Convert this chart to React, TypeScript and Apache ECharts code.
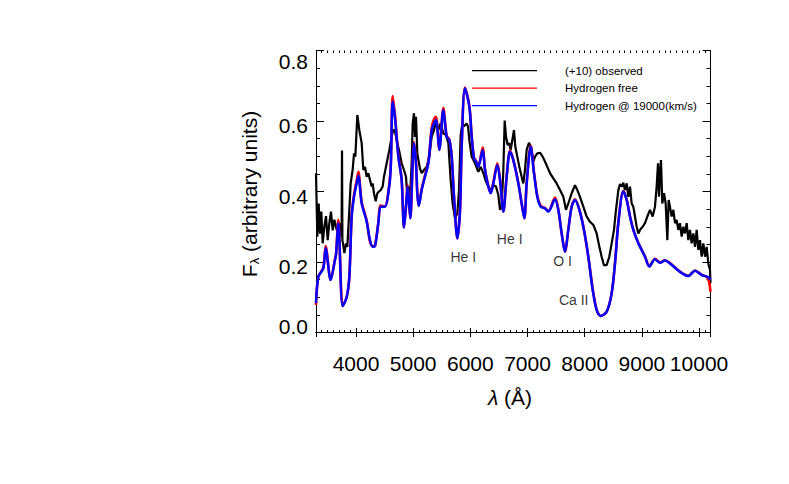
import { useEffect, useRef } from 'react';
import * as echarts from 'echarts';

const FONT = '"Liberation Sans", Arial, Helvetica, sans-serif';

// Observed spectrum (+10), wavelength in Å and flux (arbitrary units)
const obsWave = [3300, 3323, 3347, 3370, 3393, 3417, 3446, 3475, 3504, 3533, 3562, 3592, 3621, 3650, 3679, 3696, 3714, 3731, 3748, 3755, 3762, 3772, 3796, 3825, 3848, 3883, 3906, 3941, 3965, 3988, 4023, 4058, 4099, 4128, 4157, 4186, 4215, 4244, 4274, 4291, 4314, 4344, 4373, 4402, 4431, 4466, 4489, 4536, 4583, 4623, 4653, 4682, 4711, 4758, 4798, 4839, 4874, 4897, 4915, 4938, 4973, 4991, 5014, 5032, 5049, 5072, 5096, 5119, 5148, 5189, 5236, 5282, 5323, 5364, 5399, 5440, 5480, 5527, 5574, 5615, 5655, 5690, 5731, 5772, 5800, 5830, 5860, 5890, 5935, 5960, 5982, 6023, 6081, 6139, 6180, 6227, 6273, 6314, 6355, 6402, 6448, 6489, 6518, 6547, 6577, 6600, 6623, 6652, 6681, 6705, 6734, 6763, 6786, 6821, 6856, 6897, 6926, 6955, 6985, 7025, 7060, 7101, 7130, 7171, 7218, 7264, 7305, 7346, 7393, 7451, 7509, 7568, 7626, 7672, 7713, 7772, 7830, 7871, 7917, 7976, 8034, 8092, 8151, 8209, 8256, 8296, 8337, 8384, 8430, 8471, 8512, 8547, 8588, 8617, 8652, 8675, 8704, 8734, 8763, 8792, 8821, 8850, 8879, 8909, 8938, 8967, 9013, 9054, 9095, 9142, 9188, 9229, 9258, 9282, 9299, 9317, 9334, 9357, 9387, 9416, 9445, 9468, 9491, 9521, 9550, 9579, 9608, 9637, 9666, 9696, 9725, 9754, 9783, 9812, 9841, 9870, 9900, 9929, 9958, 9987, 10016, 10045, 10075, 10104, 10133, 10162, 10191, 10200];
const obsFlux = [0.452, 0.272, 0.366, 0.28, 0.343, 0.253, 0.3, 0.33, 0.262, 0.31, 0.343, 0.29, 0.32, 0.3, 0.28, 0.29, 0.31, 0.272, 0.3, 0.516, 0.26, 0.253, 0.225, 0.253, 0.243, 0.348, 0.423, 0.461, 0.508, 0.499, 0.617, 0.574, 0.537, 0.461, 0.47, 0.442, 0.452, 0.433, 0.414, 0.423, 0.395, 0.372, 0.395, 0.4, 0.404, 0.414, 0.442, 0.48, 0.518, 0.555, 0.576, 0.57, 0.546, 0.513, 0.48, 0.461, 0.442, 0.385, 0.414, 0.357, 0.48, 0.593, 0.622, 0.555, 0.612, 0.508, 0.485, 0.465, 0.452, 0.461, 0.47, 0.499, 0.555, 0.574, 0.598, 0.574, 0.593, 0.565, 0.56, 0.537, 0.433, 0.366, 0.324, 0.338, 0.4, 0.56, 0.593, 0.585, 0.593, 0.584, 0.546, 0.499, 0.48, 0.456, 0.47, 0.452, 0.428, 0.414, 0.404, 0.418, 0.414, 0.39, 0.348, 0.357, 0.461, 0.601, 0.556, 0.532, 0.537, 0.518, 0.546, 0.574, 0.527, 0.499, 0.47, 0.442, 0.423, 0.461, 0.518, 0.538, 0.527, 0.485, 0.499, 0.508, 0.51, 0.499, 0.485, 0.47, 0.452, 0.437, 0.423, 0.404, 0.385, 0.348, 0.366, 0.395, 0.418, 0.404, 0.385, 0.357, 0.329, 0.314, 0.305, 0.281, 0.243, 0.215, 0.191, 0.191, 0.215, 0.253, 0.291, 0.348, 0.404, 0.421, 0.414, 0.425, 0.404, 0.423, 0.385, 0.414, 0.366, 0.357, 0.329, 0.3, 0.281, 0.291, 0.3, 0.31, 0.329, 0.348, 0.329, 0.357, 0.414, 0.48, 0.385, 0.452, 0.489, 0.366, 0.395, 0.366, 0.262, 0.376, 0.357, 0.329, 0.348, 0.31, 0.319, 0.291, 0.31, 0.272, 0.3, 0.281, 0.31, 0.262, 0.291, 0.253, 0.281, 0.243, 0.291, 0.234, 0.262, 0.215, 0.253, 0.215, 0.243, 0.196, 0.177, 0.14];

// Model spectra
const modelWave = [3300, 3341, 3428, 3469, 3557, 3632, 3650, 3691, 3766, 3836, 3883, 3924, 3965, 4011, 4040, 4099, 4186, 4244, 4291, 4332, 4390, 4431, 4507, 4565, 4606, 4641, 4682, 4740, 4798, 4839, 4874, 4903, 4932, 4950, 4991, 5014, 5049, 5072, 5096, 5148, 5206, 5265, 5323, 5364, 5399, 5457, 5527, 5585, 5632, 5673, 5714, 5772, 5819, 5848, 5906, 5982, 6023, 6063, 6098, 6139, 6215, 6256, 6314, 6355, 6402, 6472, 6518, 6577, 6635, 6693, 6751, 6839, 6897, 6944, 6985, 7055, 7113, 7171, 7229, 7305, 7364, 7480, 7538, 7597, 7655, 7713, 7772, 7830, 7906, 7987, 8063, 8139, 8209, 8279, 8384, 8471, 8530, 8588, 8675, 8734, 8792, 8850, 8938, 9054, 9130, 9229, 9317, 9404, 9491, 9666, 9812, 9929, 10045, 10150, 10200];
const hydrogen19000 = [0.083, 0.158, 0.182, 0.239, 0.149, 0.206, 0.22, 0.31, 0.075, 0.1, 0.158, 0.329, 0.385, 0.423, 0.445, 0.366, 0.315, 0.262, 0.243, 0.245, 0.31, 0.357, 0.357, 0.395, 0.461, 0.655, 0.608, 0.499, 0.433, 0.298, 0.357, 0.414, 0.357, 0.324, 0.48, 0.537, 0.48, 0.395, 0.359, 0.404, 0.442, 0.48, 0.574, 0.593, 0.603, 0.518, 0.631, 0.555, 0.546, 0.499, 0.385, 0.267, 0.348, 0.527, 0.693, 0.641, 0.555, 0.494, 0.485, 0.47, 0.518, 0.461, 0.414, 0.395, 0.423, 0.475, 0.433, 0.343, 0.442, 0.513, 0.489, 0.423, 0.366, 0.324, 0.423, 0.527, 0.452, 0.385, 0.357, 0.352, 0.343, 0.378, 0.348, 0.281, 0.229, 0.291, 0.357, 0.376, 0.348, 0.291, 0.215, 0.121, 0.064, 0.047, 0.059, 0.111, 0.196, 0.31, 0.4, 0.376, 0.329, 0.291, 0.253, 0.215, 0.187, 0.208, 0.198, 0.204, 0.196, 0.172, 0.16, 0.175, 0.163, 0.158, 0.15];
const hydrogenFree = [0.078, 0.158, 0.184, 0.245, 0.149, 0.208, 0.222, 0.32, 0.075, 0.1, 0.158, 0.332, 0.39, 0.43, 0.456, 0.37, 0.318, 0.258, 0.245, 0.247, 0.312, 0.36, 0.358, 0.398, 0.466, 0.671, 0.615, 0.502, 0.435, 0.298, 0.358, 0.418, 0.358, 0.324, 0.484, 0.54, 0.482, 0.395, 0.36, 0.406, 0.445, 0.483, 0.58, 0.605, 0.612, 0.52, 0.637, 0.558, 0.548, 0.5, 0.385, 0.267, 0.348, 0.53, 0.695, 0.643, 0.557, 0.496, 0.487, 0.472, 0.525, 0.463, 0.416, 0.396, 0.426, 0.48, 0.435, 0.343, 0.444, 0.516, 0.49, 0.424, 0.366, 0.324, 0.425, 0.53, 0.454, 0.387, 0.36, 0.353, 0.344, 0.383, 0.349, 0.281, 0.229, 0.292, 0.358, 0.378, 0.349, 0.291, 0.215, 0.125, 0.064, 0.047, 0.059, 0.111, 0.198, 0.312, 0.402, 0.377, 0.33, 0.292, 0.254, 0.216, 0.188, 0.209, 0.199, 0.205, 0.197, 0.173, 0.161, 0.176, 0.164, 0.155, 0.116];

// Line identifications
const lineIds = ['He I', 'He I', 'O I', 'Ca II'];
const lineIdWave = [5877, 6688, 7612, 7807];
const lineIdFlux = [0.213, 0.264, 0.203, 0.092];

const yTicks = [0, 0.2, 0.4, 0.6, 0.8];
const seriesNames = ['(+10) observed', 'Hydrogen free', 'Hydrogen @ 19000(km/s)'];
const seriesColors = ['#000000', '#ff0000', '#0000ff'];

export default function App() {
  const ref = useRef<HTMLDivElement>(null);
  useEffect(() => {
    const chart = echarts.init(ref.current!, null, { renderer: 'svg' });
    const black = '#000';
    const xBase = {
      type: 'value',
      min: 3300,
      max: 10200,
      gridIndex: 0,
      splitLine: { show: false },
    };
    const yLabelFmt = (v: number) => {
      const s = v.toFixed(1);
      if (Math.abs(v - yTicks[yTicks.length - 1]) < 1e-6) return '{t|' + s + '}';
      if (Math.abs(v - yTicks[0]) < 1e-6) return '{b|' + s + '}';
      return '{m|' + s + '}';
    };
    const labStyle = { fontSize: 21, fontFamily: FONT, color: black };
    const option: any = {
      animation: false,
      backgroundColor: '#fff',
      color: seriesColors,
      grid: { left: 316, top: 50.5, width: 394.5, height: 282, show: false },
      legend: {
        orient: 'vertical',
        left: 472,
        top: 63.7,
        padding: 0,
        icon: 'rect',
        itemWidth: 65,
        itemHeight: 1.3,
        itemGap: 3.5,
        data: seriesNames.map((n, i) => ({ name: n, itemStyle: { color: seriesColors[i] } })),
        textStyle: { fontSize: 11.5, lineHeight: 14, fontFamily: FONT, color: black, padding: [0, 0, 0, 23] },
        selectedMode: false,
      },
      xAxis: [
        {
          ...xBase,
          position: 'bottom',
          splitNumber: 7,
          axisLine: { show: true, lineStyle: { color: black, width: 1 } },
          axisTick: { show: true, inside: true, length: 4.5, lineStyle: { color: black } },
          axisLabel: {
            show: true,
            margin: 20,
            ...labStyle,
            formatter: (v: number) => (v % 1000 === 0 ? String(v) : ''),
          },
        },
        {
          ...xBase,
          position: 'top',
          splitNumber: 7,
          axisLine: { show: true, lineStyle: { color: black, width: 1 } },
          axisTick: { show: true, inside: true, length: 4.5, lineStyle: { color: black } },
          axisLabel: { show: false },
        },
        {
          ...xBase,
          position: 'bottom',
          interval: 100,
          axisLine: { show: false },
          axisTick: { show: true, inside: true, length: 2.5, lineStyle: { color: black } },
          axisLabel: { show: false },
        },
        {
          ...xBase,
          position: 'top',
          interval: 100,
          axisLine: { show: false },
          axisTick: { show: true, inside: true, length: 2.5, lineStyle: { color: black } },
          axisLabel: { show: false },
        },
      ],
      yAxis: [
        {
          type: 'value',
          position: 'left',
          min: 0,
          max: 0.8,
          interval: 0.2,
          splitLine: { show: false },
          axisLine: { show: true, lineStyle: { color: black, width: 1 } },
          axisTick: { show: true, inside: true, length: 8, lineStyle: { color: black } },
          minorTick: { show: true, splitNumber: 4, length: 4, lineStyle: { color: black } },
          axisLabel: {
            margin: 8,
            ...labStyle,
            formatter: yLabelFmt,
            rich: {
              t: { ...labStyle, padding: [22, 0, 0, 0] },
              b: { ...labStyle, padding: [0, 0, 13, 0] },
              m: { ...labStyle, padding: [9, 0, 0, 0] },
            },
          },
        },
        {
          type: 'value',
          position: 'right',
          min: 0,
          max: 0.8,
          interval: 0.2,
          splitLine: { show: false },
          axisLine: { show: true, lineStyle: { color: black, width: 1 } },
          axisTick: { show: true, inside: true, length: 8, lineStyle: { color: black } },
          minorTick: { show: true, splitNumber: 4, length: 4, lineStyle: { color: black } },
          axisLabel: { show: false },
        },
      ],
      series: [
        {
          name: seriesNames[0],
          type: 'line',
          xAxisIndex: 0,
          yAxisIndex: 0,
          symbol: 'none',
          data: obsWave.map((w, i) => [w, obsFlux[i]]),
          lineStyle: { color: seriesColors[0], width: 2.2 },
          itemStyle: { color: seriesColors[0] },
          z: 2,
        },
        {
          name: seriesNames[1],
          type: 'line',
          xAxisIndex: 0,
          yAxisIndex: 0,
          symbol: 'none',
          smooth: 0.3,
          data: modelWave.map((w, i) => [w, hydrogenFree[i]]),
          lineStyle: { color: seriesColors[1], width: 2.6 },
          itemStyle: { color: seriesColors[1] },
          z: 3,
        },
        {
          name: seriesNames[2],
          type: 'line',
          xAxisIndex: 0,
          yAxisIndex: 0,
          symbol: 'none',
          smooth: 0.3,
          data: modelWave.map((w, i) => [w, hydrogen19000[i]]),
          lineStyle: { color: seriesColors[2], width: 2.5 },
          itemStyle: { color: seriesColors[2] },
          z: 4,
        },
        {
          name: 'ids',
          type: 'scatter',
          xAxisIndex: 0,
          yAxisIndex: 0,
          symbolSize: 0,
          silent: true,
          data: lineIdWave.map((w, i) => ({ value: [w, lineIdFlux[i]], name: lineIds[i] })),
          label: {
            show: true,
            position: 'inside',
            formatter: '{b}',
            fontSize: 14,
            fontFamily: FONT,
            color: black,
          },
          z: 5,
        },
      ],
      graphic: [
        {
          type: 'text',
          x: 249,
          y: 194,
          rotation: Math.PI / 2,
          style: {
            text: '{f|F}{s|λ}{n| (arbitrary units)}',
            align: 'center',
            verticalAlign: 'middle',
            fill: black,
            fontSize: 21,
            fontFamily: FONT,
            rich: {
              f: { fontSize: 21, fontFamily: FONT, fill: black, lineHeight: 24 },
              s: { fontSize: 13, fontFamily: FONT, fill: black, verticalAlign: 'bottom', lineHeight: 14, padding: [8, 0, 0, 0] },
              n: { fontSize: 21, fontFamily: FONT, fill: black, lineHeight: 24 },
            },
          },
        },
        {
          type: 'text',
          x: 510,
          y: 397,
          style: {
            text: '{l|λ}{n| (Å)}',
            align: 'center',
            verticalAlign: 'middle',
            fill: black,
            fontSize: 21,
            fontFamily: FONT,
            rich: {
              l: { fontSize: 21, fontFamily: FONT, fontStyle: 'italic', fill: black },
              n: { fontSize: 21, fontFamily: FONT, fill: black },
            },
          },
        },
      ],
    };
    chart.setOption(option);
    return () => chart.dispose();
  }, []);
  return (
    <div
      ref={ref}
      style={{ position: 'fixed', left: 0, top: 0, width: 789, height: 484, background: '#fff' }}
    />
  );
}
